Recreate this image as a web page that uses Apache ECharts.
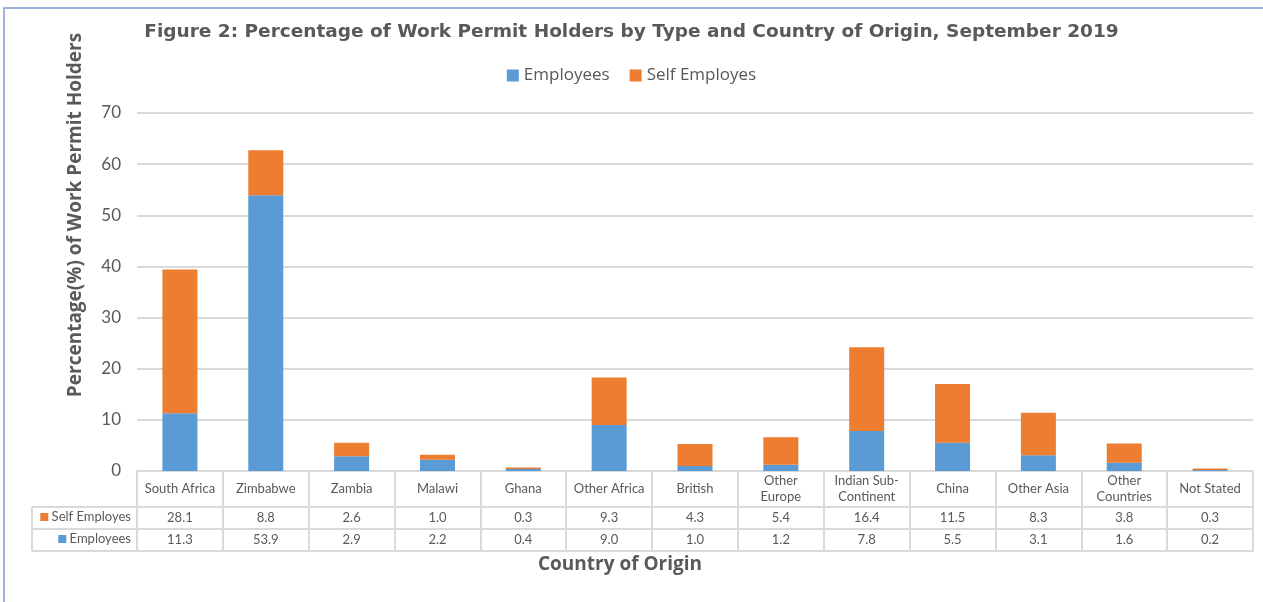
<!DOCTYPE html>
<html>
<head>
<meta charset="utf-8">
<script src="https://cdn.jsdelivr.net/npm/echarts@6/dist/echarts.min.js"></script>
<style>
html, body { margin:0; padding:0; background:#fff; }
#chart { width:1263px; height:602px; }
</style>
</head>
<body>
<div id="chart"></div>
<script>
var countries = ['South Africa', 'Zimbabwe', 'Zambia', 'Malawi', 'Ghana', 'Other Africa', 'British',
	'Other\nEurope', 'Indian Sub-\nContinent', 'China', 'Other Asia', 'Other\nCountries', 'Not Stated'];
var employees = [11.3, 53.9, 2.9, 2.2, 0.4, 9.0, 1.0, 1.2, 7.8, 5.5, 3.1, 1.6, 0.2];
var selfEmployes = [28.1, 8.8, 2.6, 1.0, 0.3, 9.3, 4.3, 5.4, 16.4, 11.5, 8.3, 3.8, 0.3];
var yTicks = [0, 10, 20, 30, 40, 50, 60, 70];

var FONT = 'Lato';
var BOLD = 'Open Sans';
var TXT = '#595959';
var LINE = '#d9d9d9';
var BLUE = '#5b9bd5';
var ORANGE = '#ed7d31';

function fmt(v){ return v.toFixed(1); }

var myChart = echarts.init(document.getElementById('chart'));

// table rows are drawn as extra category axes under the plot
function tableAxis(labels, offset, tickLen, mid, name, color){
	return {
		type:'category',
		position:'bottom',
		offset:offset,
		data:labels,
		axisLine:{ show:true, lineStyle:{ color:LINE, width:2 } },
		axisTick:{ show:tickLen > 0, length:tickLen, interval:0, lineStyle:{ color:LINE, width:2 } },
		axisLabel:{ show:labels.length > 0, interval:0, margin:mid, verticalAlign:'middle',
			color:TXT, fontFamily:FONT, fontSize:13, lineHeight:16 },
		name:name,
		nameLocation:'start',
		nameGap:6,
		nameTextStyle:{ color:TXT, fontFamily:FONT, fontSize:13, padding:[20,0,0,0],
			rich:{ sq:{ width:8, height:8, backgroundColor:color } } },
		splitLine:{ show:false }
	};
}

var option = {
	animation:false,
	textStyle:{ fontFamily:FONT },
	title:{
		text:'Figure 2: Percentage of Work Permit Holders by Type and Country of Origin, September 2019',
		left:'center',
		top:18,
		textStyle:{ color:TXT, fontFamily:'DejaVu Sans', fontWeight:'bold', fontSize:18.5 }
	},
	legend:{
		top:62,
		left:'center',
		itemWidth:12,
		itemHeight:12,
		itemGap:20,
		icon:'rect',
		textStyle:{ color:TXT, fontFamily:BOLD, fontSize:17 },
		data:['Employees', 'Self Employes']
	},
	grid:{ left:137, right:10, top:113, bottom:131 },
	xAxis:[
		tableAxis(countries, 0, 36, 18, '', ORANGE),
		tableAxis(selfEmployes.map(fmt), 36, 22, 11, '{sq|} Self Employes', ORANGE),
		tableAxis(employees.map(fmt), 58, 22, 11, '{sq|} Employees', BLUE),
		{
			type:'category',
			position:'bottom',
			offset:80,
			data:countries,
			axisLine:{ show:true, lineStyle:{ color:LINE, width:2 } },
			axisTick:{ show:false },
			axisLabel:{ show:false },
			name:'Country of Origin',
			nameLocation:'middle',
			nameGap:4,
			nameTextStyle:{ color:TXT, fontFamily:BOLD, fontWeight:'bold', fontSize:19, padding:[0,150,0,0] }
		}
	],
	yAxis:{
		type:'value',
		min:yTicks[0],
		max:yTicks[yTicks.length - 1],
		interval:10,
		axisLine:{ show:false },
		axisTick:{ show:false },
		axisLabel:{ color:TXT, fontFamily:FONT, fontSize:17, margin:16 },
		splitLine:{ lineStyle:{ color:LINE, width:2 } },
		name:'Percentage(%) of Work Permit Holders',
		nameLocation:'middle',
		nameGap:52,
		nameTextStyle:{ color:TXT, fontFamily:BOLD, fontWeight:'bold', fontSize:19, padding:[0,0,0,154] }
	},
	graphic:[
		{ type:'rect', shape:{ x:4, y:8, width:1400, height:800 }, style:{ fill:'none', stroke:'#7f96cf', lineWidth:1.5 }, silent:true },
		{ type:'line', shape:{ x1:32, y1:507, x2:137, y2:507 }, style:{ stroke:LINE, lineWidth:2 } },
		{ type:'line', shape:{ x1:32, y1:529, x2:137, y2:529 }, style:{ stroke:LINE, lineWidth:2 } },
		{ type:'line', shape:{ x1:32, y1:551, x2:137, y2:551 }, style:{ stroke:LINE, lineWidth:2 } },
		{ type:'line', shape:{ x1:32, y1:507, x2:32, y2:551 }, style:{ stroke:LINE, lineWidth:2 } }
	],
	series:[
		{
			name:'Employees',
			type:'bar',
			stack:'total',
			xAxisIndex:0,
			barWidth:35,
			itemStyle:{ color:BLUE },
			data:employees
		},
		{
			name:'Self Employes',
			type:'bar',
			stack:'total',
			xAxisIndex:0,
			barWidth:35,
			itemStyle:{ color:ORANGE },
			data:selfEmployes
		}
	]
};
myChart.setOption(option);
</script>
</body>
</html>
